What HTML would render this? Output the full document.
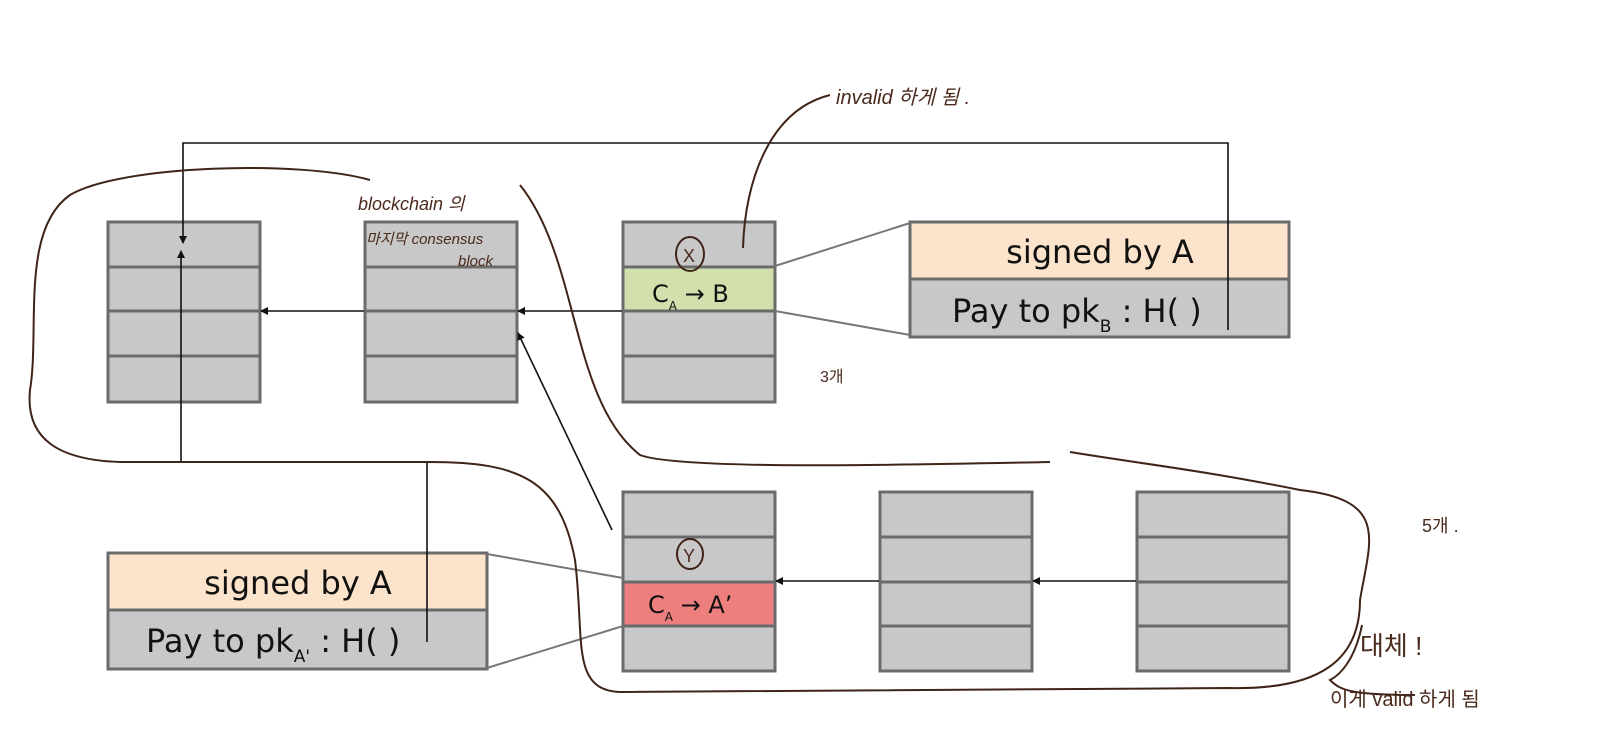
<!DOCTYPE html>
<html><head><meta charset="utf-8"><style>
html,body{margin:0;padding:0;background:#fff;}
svg{display:block;}
.t{font-family:"DejaVu Sans","Liberation Sans",sans-serif;fill:#111;}
.h{font-family:"Liberation Sans","Noto Sans CJK KR",sans-serif;fill:#4a2a1c;}
</style></head><body>
<svg width="1604" height="751" viewBox="0 0 1604 751" xmlns="http://www.w3.org/2000/svg">
<defs>
<marker id="ar" markerWidth="8" markerHeight="8" refX="7" refY="4" orient="auto" markerUnits="userSpaceOnUse"><path d="M0,0 L8,4 L0,8 z" fill="#111"/></marker>
</defs>
<g stroke="#6b6b6b" stroke-width="3" fill="#c8c8c8">
<!-- top blocks -->
<rect x="108" y="222" width="152" height="180"/>
<rect x="365" y="222" width="152" height="180"/>
<rect x="623" y="222" width="152" height="180"/>
<rect x="623" y="267" width="152" height="44" fill="#d2e0ae"/>
<!-- bottom blocks -->
<rect x="623" y="492" width="152" height="179"/>
<rect x="623" y="582" width="152" height="44" fill="#ee7f7f"/>
<rect x="880" y="492" width="152" height="179"/>
<rect x="1137" y="492" width="152" height="179"/>
</g>
<g stroke="#6b6b6b" stroke-width="3">
<line x1="108" y1="267" x2="260" y2="267"/><line x1="108" y1="311" x2="260" y2="311"/><line x1="108" y1="356" x2="260" y2="356"/>
<line x1="365" y1="267" x2="517" y2="267"/><line x1="365" y1="311" x2="517" y2="311"/><line x1="365" y1="356" x2="517" y2="356"/>
<line x1="623" y1="356" x2="775" y2="356"/>
<line x1="623" y1="537" x2="775" y2="537"/>
<line x1="880" y1="537" x2="1032" y2="537"/><line x1="880" y1="582" x2="1032" y2="582"/><line x1="880" y1="626" x2="1032" y2="626"/>
<line x1="1137" y1="537" x2="1289" y2="537"/><line x1="1137" y1="582" x2="1289" y2="582"/><line x1="1137" y1="626" x2="1289" y2="626"/>
</g>
<!-- signed boxes -->
<g stroke="#6b6b6b" stroke-width="3">
<rect x="910" y="222" width="379" height="57" fill="#fce3cb"/>
<rect x="910" y="279" width="379" height="58" fill="#c8c8c8"/>
<rect x="108" y="553" width="379" height="57" fill="#fce3cb"/>
<rect x="108" y="610" width="379" height="59" fill="#c8c8c8"/>
</g>
<g stroke="#777" stroke-width="2">
<line x1="775" y1="266" x2="910" y2="223"/><line x1="775" y1="311" x2="910" y2="335"/>
<line x1="487" y1="554" x2="623" y2="578"/><line x1="487" y1="668" x2="623" y2="626"/>
</g>
<!-- arrows -->
<g stroke="#111" stroke-width="1.6" fill="none">
<line x1="622" y1="311" x2="518" y2="311" marker-end="url(#ar)"/>
<line x1="364" y1="311" x2="261" y2="311" marker-end="url(#ar)"/>
<line x1="879" y1="581" x2="776" y2="581" marker-end="url(#ar)"/>
<line x1="1136" y1="581" x2="1033" y2="581" marker-end="url(#ar)"/>
<line x1="612" y1="530" x2="518" y2="333" marker-end="url(#ar)"/>
<polyline points="1228,330 1228,143 183,143 183,243" marker-end="url(#ar)"/>
<polyline points="427,642 427,462 181,462 181,251" marker-end="url(#ar)"/>
</g>
<!-- texts -->
<text class="t" x="1100" y="263" font-size="32" text-anchor="middle">signed by A</text>
<text class="t" x="952" y="322" font-size="32">Pay to pk<tspan font-size="17" dy="10">B</tspan><tspan dy="-10"> : H(   )</tspan></text>
<text class="t" x="298" y="594" font-size="32" text-anchor="middle">signed by A</text>
<text class="t" x="146" y="652" font-size="32">Pay to pk<tspan font-size="17" dy="10">A'</tspan><tspan dy="-10"> : H(   )</tspan></text>
<text class="t" x="652" y="302" font-size="24">C<tspan font-size="12" dy="8">A</tspan><tspan dy="-8"> → B</tspan></text>
<text class="t" x="648" y="613" font-size="24">C<tspan font-size="12" dy="8">A</tspan><tspan dy="-8"> → A’</tspan></text>
<!-- handwriting -->
<g stroke="#3f2418" stroke-width="2" fill="none">
<path d="M370,180 C300,160 120,165 70,195 C20,230 40,330 30,390 C25,440 60,460 120,462 L430,462 C520,462 560,480 575,560 C585,640 570,690 620,692 L1230,688 C1320,690 1360,660 1360,600 C1370,540 1390,500 1300,490 C1200,470 1150,465 1070,452"/>
<path d="M520,185 C580,260 570,400 640,455 C680,470 900,465 1050,462"/>
<path d="M743,248 C745,180 770,110 830,95"/>
<ellipse cx="690" cy="254" rx="14" ry="17"/>
<ellipse cx="690" cy="554" rx="13" ry="15"/>
<path d="M1362,625 C1355,660 1340,675 1330,680 C1340,690 1350,695 1415,695"/>
</g>
<text class="h" x="358" y="210" font-size="18" font-style="italic">blockchain 의</text>
<text class="h" x="366" y="244" font-size="15" font-style="italic">마지막 consensus</text>
<text class="h" x="458" y="266" font-size="15" font-style="italic">block</text>
<text class="h" x="836" y="104" font-size="20" font-style="italic">invalid 하게 됨  .</text>
<text class="h" x="820" y="382" font-size="16">3개</text>
<text class="h" x="1422" y="532" font-size="18">5개  .</text>
<text class="h" x="1360" y="655" font-size="26">대체 !</text>
<text class="h" x="1330" y="706" font-size="20">이게 valid 하게 됨</text>
<text class="h" x="683" y="262" font-size="18">X</text>
<text class="h" x="683" y="562" font-size="18">Y</text>
</svg>
</body></html>
